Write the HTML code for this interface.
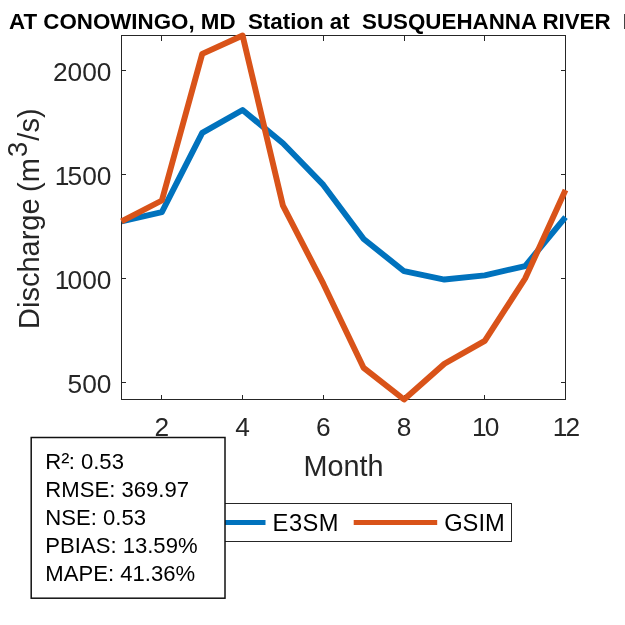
<!DOCTYPE html>
<html><head><meta charset="utf-8"><title>Discharge</title>
<style>
html,body{margin:0;padding:0;background:#fff;}
body{width:625px;height:625px;overflow:hidden;}
svg{display:block;will-change:transform;font-family:"Liberation Sans",Arial,sans-serif;}
.ax{stroke:#262626;stroke-width:1;fill:none;shape-rendering:crispEdges;}
.tl{font-size:26.3px;fill:#262626;}
.lab{font-size:28.8px;fill:#262626;}
.ttl{font-size:22.34px;font-weight:bold;fill:#000;}
.st{font-size:22.1px;fill:#000;}
.lg{font-size:23.7px;fill:#000;}
</style></head><body>
<svg width="625" height="625" viewBox="0 0 625 625">
<rect x="0" y="0" width="625" height="625" fill="#fff"/>
<text class="ttl" x="9" y="28.9" xml:space="preserve">AT CONOWINGO, MD  Station at  SUSQUEHANNA RIVER  <tspan dx="-0.4">River</tspan></text>
<rect class="ax" x="121.5" y="35.5" width="444.0" height="364.0"/>
<line class="ax" x1="161.5" y1="399.5" x2="161.5" y2="395.0"/><line class="ax" x1="161.5" y1="35.5" x2="161.5" y2="41.0"/>
<text class="tl" x="161.9" y="436" text-anchor="middle">2</text>
<line class="ax" x1="242.5" y1="399.5" x2="242.5" y2="395.0"/><line class="ax" x1="242.5" y1="35.5" x2="242.5" y2="41.0"/>
<text class="tl" x="242.6" y="436" text-anchor="middle">4</text>
<line class="ax" x1="323.5" y1="399.5" x2="323.5" y2="395.0"/><line class="ax" x1="323.5" y1="35.5" x2="323.5" y2="41.0"/>
<text class="tl" x="323.3" y="436" text-anchor="middle">6</text>
<line class="ax" x1="404.5" y1="399.5" x2="404.5" y2="395.0"/><line class="ax" x1="404.5" y1="35.5" x2="404.5" y2="41.0"/>
<text class="tl" x="404.0" y="436" text-anchor="middle">8</text>
<line class="ax" x1="484.5" y1="399.5" x2="484.5" y2="395.0"/><line class="ax" x1="484.5" y1="35.5" x2="484.5" y2="41.0"/>
<text class="tl" x="483.9" y="436" text-anchor="middle"><tspan dx="1.8">1</tspan><tspan dx="-1.8">0</tspan></text>
<line class="ax" x1="565.5" y1="399.5" x2="565.5" y2="395.0"/><line class="ax" x1="565.5" y1="35.5" x2="565.5" y2="41.0"/>
<text class="tl" x="564.6" y="436" text-anchor="middle"><tspan dx="1.8">1</tspan><tspan dx="-1.8">2</tspan></text>
<line class="ax" x1="121.5" y1="382.5" x2="126.0" y2="382.5"/><line class="ax" x1="565.5" y1="382.5" x2="561.0" y2="382.5"/>
<text class="tl" x="111.4" y="393.1" text-anchor="end">500</text>
<line class="ax" x1="121.5" y1="278.5" x2="126.0" y2="278.5"/><line class="ax" x1="565.5" y1="278.5" x2="561.0" y2="278.5"/>
<text class="tl" x="109.6" y="289.1" text-anchor="end"><tspan dx="1.8">1</tspan><tspan dx="-1.8">0</tspan>00</text>
<line class="ax" x1="121.5" y1="174.5" x2="126.0" y2="174.5"/><line class="ax" x1="565.5" y1="174.5" x2="561.0" y2="174.5"/>
<text class="tl" x="109.6" y="185.1" text-anchor="end"><tspan dx="1.8">1</tspan><tspan dx="-1.8">5</tspan>00</text>
<line class="ax" x1="121.5" y1="70.5" x2="126.0" y2="70.5"/><line class="ax" x1="565.5" y1="70.5" x2="561.0" y2="70.5"/>
<text class="tl" x="111.4" y="81.1" text-anchor="end">2000</text>
<g fill="none" stroke-width="5.9" stroke-linejoin="round" stroke-linecap="butt">
<polyline stroke="#0072BD" points="121.50,221.30 161.86,212.15 202.23,132.90 242.59,110.02 282.95,143.30 323.32,184.90 363.68,238.98 404.05,271.22 444.41,279.54 484.77,275.38 525.14,266.02 565.50,217.14"/>
<polyline stroke="#D95319" points="121.50,221.30 161.86,200.50 202.23,53.86 242.59,35.49 282.95,205.70 323.32,283.70 363.68,367.94 404.05,399.49 444.41,363.78 484.77,340.90 525.14,278.50 565.50,190.00"/>
</g>
<text class="lab" x="343.5" y="475.6" text-anchor="middle">Month</text>
<text class="lab" style="font-size:29px" transform="translate(38.5,329) rotate(-90)">Discharge<tspan dx="-1.6"> (m</tspan><tspan font-size="27.2px" dy="-12" dx="1.2">3</tspan><tspan dy="12" dx="1.2">/s)</tspan></text>
<rect class="ax" x="175.5" y="503.5" width="336" height="38" fill="#fff" style="fill:#fff"/>
<rect x="184" y="520" width="81.5" height="5" fill="#0072BD"/>
<text class="lg" x="272.6" y="531.4" textLength="66" lengthAdjust="spacing">E3SM</text>
<rect x="353.7" y="520" width="83.5" height="5" fill="#D95319"/>
<text class="lg" x="444.2" y="531.4">GSIM</text>
<rect x="31.2" y="437.5" width="193.8" height="160.7" fill="#fff" stroke="#111" stroke-width="1.5"/>
<text class="st" x="45.3" y="468.9">R<tspan font-size="24.5px" dy="1">²</tspan><tspan dx="-0.8" dy="-1">: 0.53</tspan></text>
<text class="st" x="45.3" y="497.0">RMSE: 369.97</text>
<text class="st" x="45.3" y="525.1">NSE: 0.53</text>
<text class="st" x="45.3" y="553.2">PBIAS: 13.59%</text>
<text class="st" x="45.3" y="581.3">MAPE: 41.36%</text>
</svg>
</body></html>
